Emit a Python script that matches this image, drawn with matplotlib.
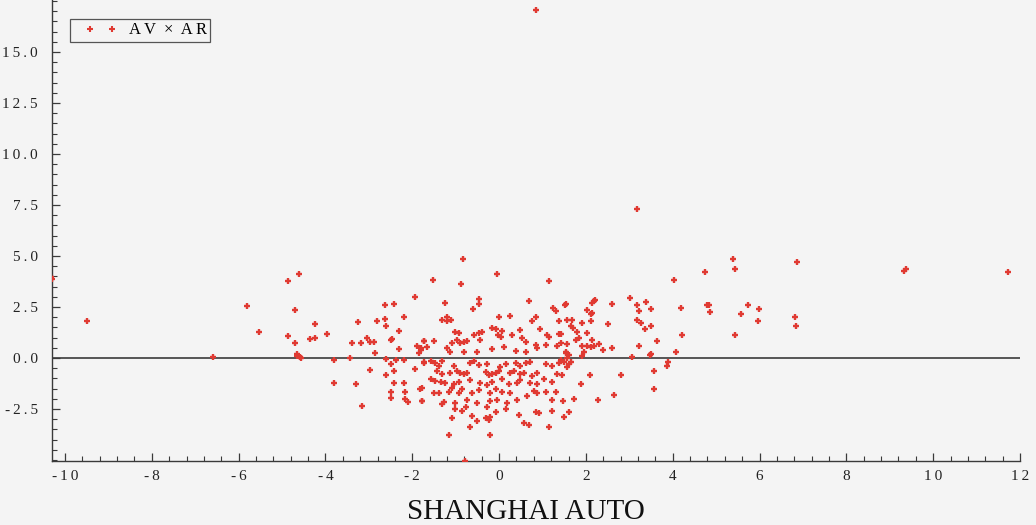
import matplotlib
matplotlib.use("Agg")
import matplotlib.pyplot as plt
from matplotlib.ticker import MultipleLocator, FuncFormatter
from matplotlib.lines import Line2D
from matplotlib.legend_handler import HandlerLine2D

# ---- data ----
x_left = [-10.32, -10.30, -9.50, -6.59, -5.80, -5.52, -4.66, -4.57, -4.58, -4.60]
y_left = [3.95, 3.85, 1.81, 0.06, 2.56, 1.27, 0.10, 0.00, 0.03, 4.10]

x_a = [-4.87, -1.93, -4.70, -2.64, -2.43, -2.20, -4.24, -3.26, -2.81, -2.64, -2.60, -2.31,
       -4.87, -4.70, -4.35, -4.24, -3.96, -3.40, -3.17, -3.04, -2.97, -2.89, -2.50, -2.47,
       -2.31, -1.89, -1.81, -1.74, -2.87, -4.66]
y_a = [3.76, 2.98, 2.34, 2.58, 2.63, 2.03, 1.67, 1.76, 1.81, 1.90, 1.57, 1.34,
       1.08, 0.75, 0.93, 0.96, 1.19, 0.75, 0.75, 1.00, 0.78, 0.80, 0.88, 0.93,
       0.43, 0.59, 0.39, 0.83, 0.23, 0.18]

x_b = [-3.81, -3.43, -2.60, -2.37, -2.18, -1.85, -1.74, -2.97, -2.60, -2.49, -2.43, -1.93,
       -3.81, -3.29, -2.43, -2.18, -1.83, -2.50, -2.16, -2.49, -2.16, -2.10, -1.77, -3.16]
y_b = [-0.10, -0.02, -0.07, -0.10, -0.10, 0.26, -0.26, -0.59, -0.83, -0.29, -0.62, -0.56,
       -1.24, -1.27, -1.24, -1.24, -1.52, -1.68, -1.68, -1.98, -2.02, -2.17, -2.11, -2.34]

x_c = [-0.83, -0.04, -1.52, -0.87, 1.15, -1.24, -0.46, -0.46, -0.60, 0.69, 1.25, 1.32,
       1.38, 1.51, -1.21, -1.31, -1.21, -1.10, -0.01, 0.26, 0.76, 0.84, 0.94, 1.11,
       1.15, 1.38, -1.01, -0.93, -0.58, -0.47, -0.39, -0.16, -0.08, 0.07, -0.03, 0.05,
       0.30, 0.47, 0.53, 0.61, -1.72, -1.51, -0.97, -0.89, -0.81, -0.74, -0.43, -1.08,
       -0.16, 0.11, 0.84, 0.88, 1.07, 1.34, 1.42, -1.81, -1.66, -1.20, -1.12, -0.81,
       -0.51, 0.38, 0.61]
y_c = [4.85, 4.12, 3.82, 3.61, 3.76, 2.68, 2.91, 2.63, 2.42, 2.81, 2.44, 2.32,
       1.83, 2.60, 2.03, 1.86, 1.81, 1.86, 2.03, 2.07, 1.81, 2.00, 1.44, 1.13,
       1.01, 1.18, 1.29, 1.24, 1.13, 1.24, 1.29, 1.46, 1.41, 1.34, 1.13, 1.05,
       1.13, 1.37, 0.96, 0.80, 0.85, 0.85, 0.88, 0.75, 0.80, 0.83, 0.88, 0.72,
       0.43, 0.56, 0.64, 0.47, 0.64, 0.59, 0.72, 0.47, 0.56, 0.47, 0.31, 0.31,
       0.31, 0.34, 0.31]

x_d = [-1.74, -1.58, -1.47, -1.39, -1.31, -1.04, -0.66, -0.58, -0.47, -0.27, 0.03, 0.15,
       0.38, 0.49, 0.61, 0.72, 1.07, 1.22, 1.38,
       -1.43, -1.31, -1.12, -0.97, -0.89, -0.81, -0.74, -0.31, -0.24, -0.16, -0.08, -0.01,
       0.26, 0.34, 0.49, 0.57, 0.76, 0.88, 1.34,
       -1.58, -1.47, -1.35, -1.24, -1.04, -0.93, -0.66, -0.43, -0.27, -0.16, 0.07, 0.22,
       0.42, 0.49, 0.72, 0.88, 1.03, 1.22]
y_d = [-0.20, -0.15, -0.26, -0.39, -0.15, -0.39, -0.26, -0.15, -0.34, -0.29, -0.46, -0.29,
       -0.26, -0.39, -0.26, -0.20, -0.29, -0.39, -0.26,
       -0.62, -0.78, -0.72, -0.62, -0.75, -0.78, -0.72, -0.67, -0.83, -0.78, -0.75, -0.62,
       -0.75, -0.62, -0.78, -0.72, -0.88, -0.75, -0.78,
       -1.04, -1.11, -1.16, -1.24, -1.27, -1.16, -1.08, -1.21, -1.32, -1.16, -1.04, -1.27,
       -1.24, -1.08, -1.21, -1.27, -1.04, -1.16]

x_e = [-1.77, -1.51, -1.39, -1.16, -1.08, -0.93, -0.85, -0.62, -0.47, -0.20, -0.08, 0.07,
       0.26, 0.65, 0.80, 0.88, 1.07, 1.30,
       -1.77, -1.31, -1.28, -1.01, -0.74, -0.51, -0.20, -0.04, 0.19, 0.42, 1.22,
       -1.01, -0.85, -0.77, -0.27, -0.08, 0.15, 0.45, 0.84, 0.92, 1.22,
       -1.08, -0.62, -0.51, -0.31, -0.24, -0.20, 0.57, 0.69,
       -0.66, 1.15, -1.16, -0.20, -0.78]
y_e = [-1.49, -1.70, -1.73, -1.65, -1.49, -1.73, -1.54, -1.70, -1.57, -1.73, -1.54, -1.65,
       -1.70, -1.86, -1.60, -1.73, -1.65, -1.65,
       -2.09, -2.25, -2.14, -2.22, -2.06, -2.19, -2.09, -2.06, -2.19, -2.06, -2.06,
       -2.52, -2.58, -2.39, -2.42, -2.63, -2.52, -2.80, -2.63, -2.71, -2.58,
       -2.96, -2.84, -3.07, -2.96, -3.04, -2.88, -3.17, -3.28,
       -3.37, -3.40, -3.77, -3.77, -5.03]

x_f = [4.74, 4.03, 1.55, 2.15, 2.18, 2.22, 2.59, 3.01, 3.17, 3.38, 3.22, 3.49,
       4.18, 4.80, 4.85, 2.03, 2.11, 2.15, 2.12, 1.57, 1.69, 1.65, 1.71, 1.92,
       2.52, 3.18, 3.26, 3.35, 3.49, 1.79, 2.03, 1.42, 4.22, 1.76, 1.84, 2.15,
       3.63, 1.57, 1.92, 2.03, 2.11, 2.18, 2.30, 2.40, 2.59, 3.22, 4.07, 1.95,
       3.49, 1.53]
y_f = [4.20, 3.80, 2.63, 2.71, 2.81, 2.84, 2.66, 2.96, 2.58, 2.75, 2.29, 2.39,
       2.47, 2.60, 2.27, 2.35, 2.16, 2.22, 1.83, 1.86, 1.86, 1.57, 1.45, 1.70,
       1.65, 1.86, 1.70, 1.41, 1.57, 1.29, 1.24, 1.19, 1.13, 0.88, 0.96, 0.88,
       0.83, 0.69, 0.59, 0.59, 0.55, 0.59, 0.69, 0.39, 0.50, 0.59, 0.28, 0.31,
       0.20, 0.23]

x_g = [1.53, 1.61, 1.57, 1.65, 1.49, 1.42, 1.92, 3.07, 3.48, 3.88, 3.86, 1.61,
       1.57, 1.46, 2.09, 2.80, 3.57, 3.57, 1.88, 2.65, 1.48, 1.72, 2.28, 1.61,
       1.49]
y_g = [0.31, 0.15, -0.02, -0.18, -0.18, -0.10, 0.10, 0.03, 0.16, -0.18, -0.39, -0.29,
       -0.46, -0.83, -0.85, -0.83, -0.65, -1.53, -1.27, -1.81, -2.09, -2.01, -2.06, -2.63,
       -2.91]

x_right = [5.38, 5.43, 6.87, 9.33, 9.37, 11.72, 4.84, 5.74, 5.57, 5.99, 5.97, 6.81,
           6.84, 5.43, 3.17, 0.84]
y_right = [4.84, 4.38, 4.70, 4.28, 4.35, 4.23, 2.58, 2.60, 2.16, 2.39, 1.83, 2.03,
           1.57, 1.13, 7.30, 17.06]

x_ticks = [-10, -8, -6, -4, -2, 0, 2, 4, 6, 8, 10, 12]
y_ticks = [-2.5, 0.0, 2.5, 5.0, 7.5, 10.0, 12.5, 15.0]
x_label = "SHANGHAI AUTO"
legend_label = "A V  ×  A R"

xs = x_left + x_a + x_b + x_c + x_d + x_e + x_f + x_g + x_right
ys = y_left + y_a + y_b + y_c + y_d + y_e + y_f + y_g + y_right

# ---- style ----
BG = "#f4f4f4"
RED = "#e03a32"
DARK = "#3a3a3a"
SERIF = ["Liberation Serif", "DejaVu Serif"]
THIN = "\u2009"

fig = plt.figure(figsize=(10.36, 5.25), dpi=100, facecolor=BG)
ax = fig.add_axes([52 / 1036, 64 / 525, 968 / 1036, 461 / 525])
ax.set_facecolor(BG)

ax.plot(xs, ys, linestyle="none", marker="+", ms=4.8, mew=1.7, color=RED,
        clip_on=True, zorder=3)
ax.axhline(0, color=DARK, lw=1.2, zorder=2)

ax.set_xlim(-10.3, 12.0)
ax.set_ylim(-5.05, 17.55)

for s in ["top", "right"]:
    ax.spines[s].set_visible(False)
for s in ["left", "bottom"]:
    ax.spines[s].set_color(DARK)
    ax.spines[s].set_linewidth(1.0)

ax.set_xticks(x_ticks)
ax.set_yticks(y_ticks)
ax.xaxis.set_minor_locator(MultipleLocator(0.4))
ax.yaxis.set_minor_locator(MultipleLocator(0.5))
ax.tick_params(which="major", direction="in", length=6, width=0.9, color=DARK)
ax.tick_params(which="minor", direction="in", length=3.5, width=0.8, color=DARK)


def spaced(s):
    return THIN.join(list(s))


ax.xaxis.set_major_formatter(FuncFormatter(lambda v, p: spaced("%d" % round(v))))
ax.yaxis.set_major_formatter(FuncFormatter(lambda v, p: spaced("%.1f" % v)))
for lab in ax.get_xticklabels() + ax.get_yticklabels():
    lab.set_fontfamily(SERIF)
    lab.set_fontsize(11)
    lab.set_color("#222222")
ax.tick_params(axis="x", pad=6.5)
ax.tick_params(axis="y", pad=10)

fig.text(526 / 1036, 1 - 512 / 525, x_label, ha="center", va="center",
         fontsize=21, family=SERIF, color="#111111")

h = Line2D([], [], linestyle="none", marker="+", ms=4.3, mew=1.5, color=RED)
leg = ax.legend([h], [legend_label],
                handler_map={h: HandlerLine2D(numpoints=2, marker_pad=1.0)},
                loc="upper left", bbox_to_anchor=(70 / 1036, 1 - 19 / 525),
                bbox_transform=fig.transFigure, fancybox=False,
                framealpha=1, facecolor=BG, edgecolor="#555555",
                prop={"family": SERIF, "size": 12}, borderpad=0.2,
                handlelength=3.32, handletextpad=0.0, borderaxespad=0)
leg.get_frame().set_linewidth(0.9)

fig.savefig("out.png", dpi=100, facecolor=BG)
